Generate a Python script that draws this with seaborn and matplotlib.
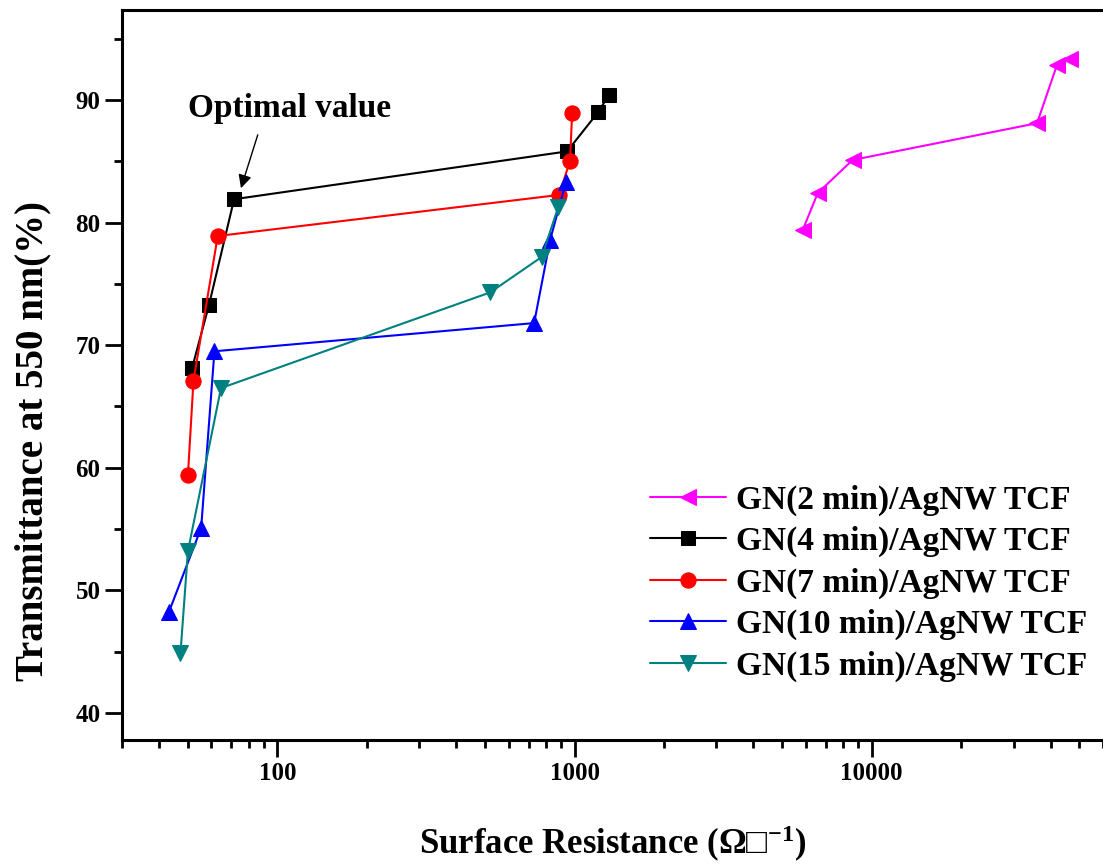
import pandas as pd
import seaborn as sns
import matplotlib.pyplot as plt
from matplotlib.ticker import LogLocator, FixedLocator, MultipleLocator, NullFormatter

sns.set_style("ticks")
plt.rcParams['font.family'] = ['Liberation Serif', 'DejaVu Serif']
plt.rcParams['font.weight'] = 'bold'
plt.rcParams['text.color'] = 'black'
plt.rcParams['axes.labelcolor'] = 'black'
plt.rcParams['xtick.color'] = 'black'
plt.rcParams['ytick.color'] = 'black'
plt.rcParams['axes.edgecolor'] = 'black'
plt.rcParams['mathtext.fontset'] = 'custom'
plt.rcParams['mathtext.rm'] = 'Liberation Serif:bold'
plt.rcParams['mathtext.it'] = 'Liberation Serif:bold'
plt.rcParams['mathtext.bf'] = 'Liberation Serif:bold'

# surface resistance (ohm/sq) and transmittance (%) per growth time
r_2min = [5860, 6580, 8620, 36000, 42000, 46600]
t_2min = [79.4, 82.4, 85.1, 88.1, 92.85, 93.3]

r_4min = [51.6, 58.9, 71.5, 944, 1200, 1306]
t_4min = [68.1, 73.3, 81.9, 85.8, 89.0, 90.4]

r_7min = [50.0, 52.2, 63.0, 887, 966, 981]
t_7min = [59.4, 67.1, 78.9, 82.25, 85.05, 88.9]

r_10min = [43.1, 55.4, 61.4, 731, 828, 935]
t_10min = [48.2, 55.1, 69.5, 71.8, 78.6, 83.3]

r_15min = [47.2, 50.0, 64.6, 520, 776, 882]
t_15min = [44.9, 53.2, 66.5, 74.3, 77.2, 81.3]

labels = ["GN(2 min)/AgNW TCF", "GN(4 min)/AgNW TCF", "GN(7 min)/AgNW TCF",
          "GN(10 min)/AgNW TCF", "GN(15 min)/AgNW TCF"]
colors = ["#FF00FF", "black", "#FF0000", "#0000FF", "#008080"]
markers = ["<", "s", "o", "^", "v"]
sizes = [11, 10, 11, 11, 11]

series = [(r_2min, t_2min), (r_4min, t_4min), (r_7min, t_7min),
          (r_10min, t_10min), (r_15min, t_15min)]

fig = plt.figure(figsize=(11.03, 8.65), dpi=100)
ax = fig.add_axes([0.1106, 0.1445, 0.8894, 0.8435])

for (r, t), lab, c, m, s in zip(series, labels, colors, markers, sizes):
    df = pd.DataFrame({"r": r, "t": t})
    sns.lineplot(data=df, x="r", y="t", sort=False, estimator=None, ax=ax,
                 color=c, marker=m, markersize=s, markeredgecolor=c,
                 linewidth=1.5, label=lab)

ax.set_xscale("log")
ax.set_xlim(30, 60000)
ax.set_ylim(37.8, 97.3)

ax.xaxis.set_major_locator(FixedLocator([100, 1000, 10000]))
ax.xaxis.set_minor_locator(LogLocator(base=10, subs=range(2, 10), numticks=20))
ax.xaxis.set_minor_formatter(NullFormatter())
ax.set_xticklabels(["100", "1000", "10000"])
ax.yaxis.set_major_locator(MultipleLocator(10))
ax.yaxis.set_minor_locator(MultipleLocator(5))

ax.tick_params(axis="both", which="major", direction="out", length=12, width=2,
               labelsize=18)
ax.tick_params(axis="x", which="major", pad=4)
ax.tick_params(axis="both", which="minor", direction="out", length=6, width=2)
for sp in ax.spines.values():
    sp.set_linewidth(2.2)
ax.spines["right"].set_visible(False)

ax.set_xlabel("Surface Resistance (Ω□$^{-1}$)", fontsize=25, fontweight="bold",
              labelpad=28)
ax.set_ylabel("Transmittance at 550 nm(%)", fontsize=28, fontweight="bold")
ax.yaxis.set_label_coords(-0.072, 0.41)

ax.text(50.0, 89.3, "Optimal value", fontsize=24, fontweight="bold",
        ha="left", va="center")
ax.annotate("", xy=(75.4, 82.8), xytext=(85.9, 87.15),
            arrowprops=dict(arrowstyle="-|>", color="black", lw=1.0,
                            shrinkA=0, shrinkB=0, mutation_scale=20))

ax.legend(loc="upper left", bbox_to_anchor=(0.589, 0.44),
          bbox_transform=fig.transFigure, frameon=False, fontsize=24,
          handlelength=2.3, handletextpad=0.3, labelspacing=0.31,
          borderpad=0, borderaxespad=0)

fig.savefig("out.png", dpi=100)
